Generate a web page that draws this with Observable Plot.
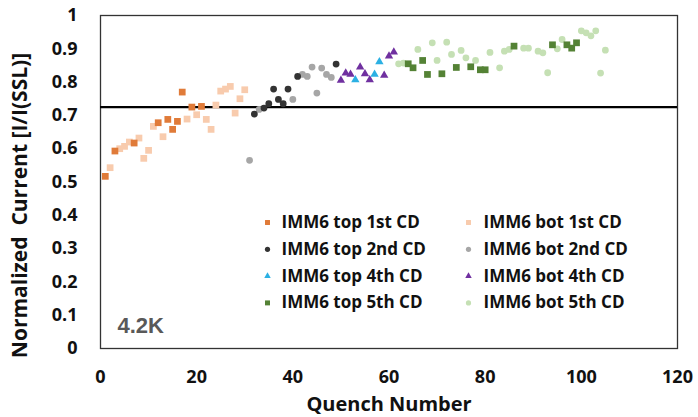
<!DOCTYPE html>
<html>
<head>
<meta charset="utf-8">
<script src="https://cdn.jsdelivr.net/npm/d3@7"></script>
<script src="https://cdn.jsdelivr.net/npm/@observablehq/plot@0.6"></script>
<style>
  html, body { margin: 0; padding: 0; background: white; }
</style>
</head>
<body>
<div id="chart"></div>
<script>
// ---- data (x = quench number, y = normalized current) ----
const top1st = [[1,0.517],[3,0.593],[7,0.617],[12,0.678],[14,0.688],[15,0.658],[16,0.682],[17,0.770],[19,0.725],[21,0.727]];
const bot1st = [[2,0.543],[4,0.600],[5,0.607],[6,0.620],[8,0.632],[9,0.571],[10,0.595],[11,0.667],[13,0.636],[18,0.689],[20,0.702],[22,0.688],[23,0.658],[24,0.731],[25,0.773],[26,0.779],[27,0.787],[28,0.707],[29,0.750],[30,0.777]];
const top2nd = [[32,0.704],[34,0.722],[35,0.735],[36,0.779],[37,0.748],[38,0.735],[39,0.779],[41,0.817],[49,0.854]];
const bot2nd = [[31,0.565],[33,0.718],[40,0.748],[42,0.823],[43,0.817],[44,0.845],[45,0.767],[46,0.842],[47,0.823],[48,0.814]];
const top4th = [[53,0.807],[57,0.823],[58,0.861]];
const bot4th = [[50,0.805],[51,0.827],[52,0.823],[54,0.845],[55,0.825],[56,0.807],[59,0.820],[60,0.878],[61,0.890]];
const top5th = [[64,0.855],[65,0.843],[67,0.865],[68,0.823],[71,0.825],[74,0.844],[77,0.846],[79,0.837],[80,0.837],[86,0.908],[94,0.912],[97,0.912],[98,0.902],[99,0.918]];
const bot5th = [[62,0.855],[63,0.857],[66,0.898],[69,0.918],[70,0.865],[72,0.920],[73,0.883],[75,0.895],[76,0.873],[78,0.865],[81,0.889],[83,0.843],[84,0.893],[85,0.898],[88,0.902],[89,0.902],[91,0.893],[92,0.888],[93,0.828],[95,0.900],[96,0.928],[100,0.954],[101,0.948],[102,0.939],[103,0.954],[104,0.827],[105,0.896]];

const threshold = 0.725;
const xTicks = [0, 20, 40, 60, 80, 100, 120];
const yTicks = [0, 0.1, 0.2, 0.3, 0.4, 0.5, 0.6, 0.7, 0.8, 0.9, 1];
const xTitle = "Quench Number";
const yTitle = "Normalized  Current [I/I(SSL)]";
const note = "4.2K";

// series: name, data, symbol, colour (legend order: left column, right column)
const series = [
  {name: "IMM6 top 1st CD", data: top1st, symbol: "square", color: "#E07B39"},
  {name: "IMM6 bot 1st CD", data: bot1st, symbol: "square", color: "#F8CBAD"},
  {name: "IMM6 top 2nd CD", data: top2nd, symbol: "circle", color: "#333333"},
  {name: "IMM6 bot 2nd CD", data: bot2nd, symbol: "circle", color: "#A6A6A6"},
  {name: "IMM6 top 4th CD", data: top4th, symbol: "triangle", color: "#2BB0E3"},
  {name: "IMM6 bot 4th CD", data: bot4th, symbol: "triangle", color: "#7030A0"},
  {name: "IMM6 top 5th CD", data: top5th, symbol: "square", color: "#548235"},
  {name: "IMM6 bot 5th CD", data: bot5th, symbol: "circle", color: "#C5E0B4"}
];

const symR = {square: 3.8, circle: 3.4, triangle: 3.1};
const legR = {square: 2.8, circle: 2.6, triangle: 2.4};

// draw "bot" series first so "top" series sit above them
const drawOrder = [...series.filter(s => s.name.includes("bot")), ...series.filter(s => s.name.includes("top"))];

const dotMarks = drawOrder.map(s =>
  Plot.dot(s.data, {x: d => d[0], y: d => d[1], symbol: () => s.symbol, r: symR[s.symbol], fill: s.color, stroke: "none"})
);

// legend (2 columns x 4 rows, placed inside the frame)
const legendMarks = [];
series.forEach((s, i) => {
  const col = i % 2, row = Math.floor(i / 2);
  const mx = col === 0 ? 167 : 368;
  const tx = col === 0 ? 181 : 383;
  const yy = 207 + row * 26.8;
  legendMarks.push(Plot.dot([s.name], {frameAnchor: "top-left", dx: mx, dy: yy, symbol: () => s.symbol, r: legR[s.symbol], fill: s.color, stroke: "none"}));
  legendMarks.push(Plot.text([s.name], {frameAnchor: "top-left", dx: tx, dy: yy, text: d => d, textAnchor: "start", lineAnchor: "middle", fontSize: 17, fontWeight: "bold", fontFamily: "Open Sans", fill: "#111"}));
});

const chart = Plot.plot({
  width: 698,
  height: 417,
  marginLeft: 100,
  marginRight: 21,
  marginTop: 15,
  marginBottom: 69,
  style: {fontFamily: "Open Sans", fontSize: "18px", fontWeight: "bold", color: "#111", background: "white", overflow: "visible"},
  symbol: {type: "identity"},
  x: {domain: [0, 120], ticks: xTicks, tickSize: 0, tickPadding: 22, label: null},
  y: {domain: [0, 1], ticks: yTicks, tickSize: 0, tickPadding: 23, label: null, tickFormat: d => String(+d.toFixed(1))},
  marks: [
    Plot.frame({stroke: "#333", strokeWidth: 1.3}),
    Plot.ruleY([threshold], {stroke: "black", strokeWidth: 2.2}),
    ...dotMarks,
    ...legendMarks,
    Plot.text([note], {frameAnchor: "bottom-left", dx: 17, dy: -16, text: d => d, textAnchor: "start", lineAnchor: "bottom", fontSize: 22, fontWeight: "bold", fontFamily: "Liberation Sans", fill: "#595959"}),
    Plot.text([xTitle], {frameAnchor: "bottom", dy: 62, text: d => d, lineAnchor: "bottom", fontSize: 20, fontWeight: "bold", fontFamily: "Open Sans", fill: "#111"}),
    Plot.text([yTitle], {frameAnchor: "left", dx: -80, dy: 23.5, rotate: -90, text: d => d, lineAnchor: "middle", textAnchor: "middle", fontSize: 21, fontWeight: "bold", fontFamily: "Open Sans", fill: "#111"})
  ]
});
document.getElementById("chart").appendChild(chart);
</script>
</body>
</html>
